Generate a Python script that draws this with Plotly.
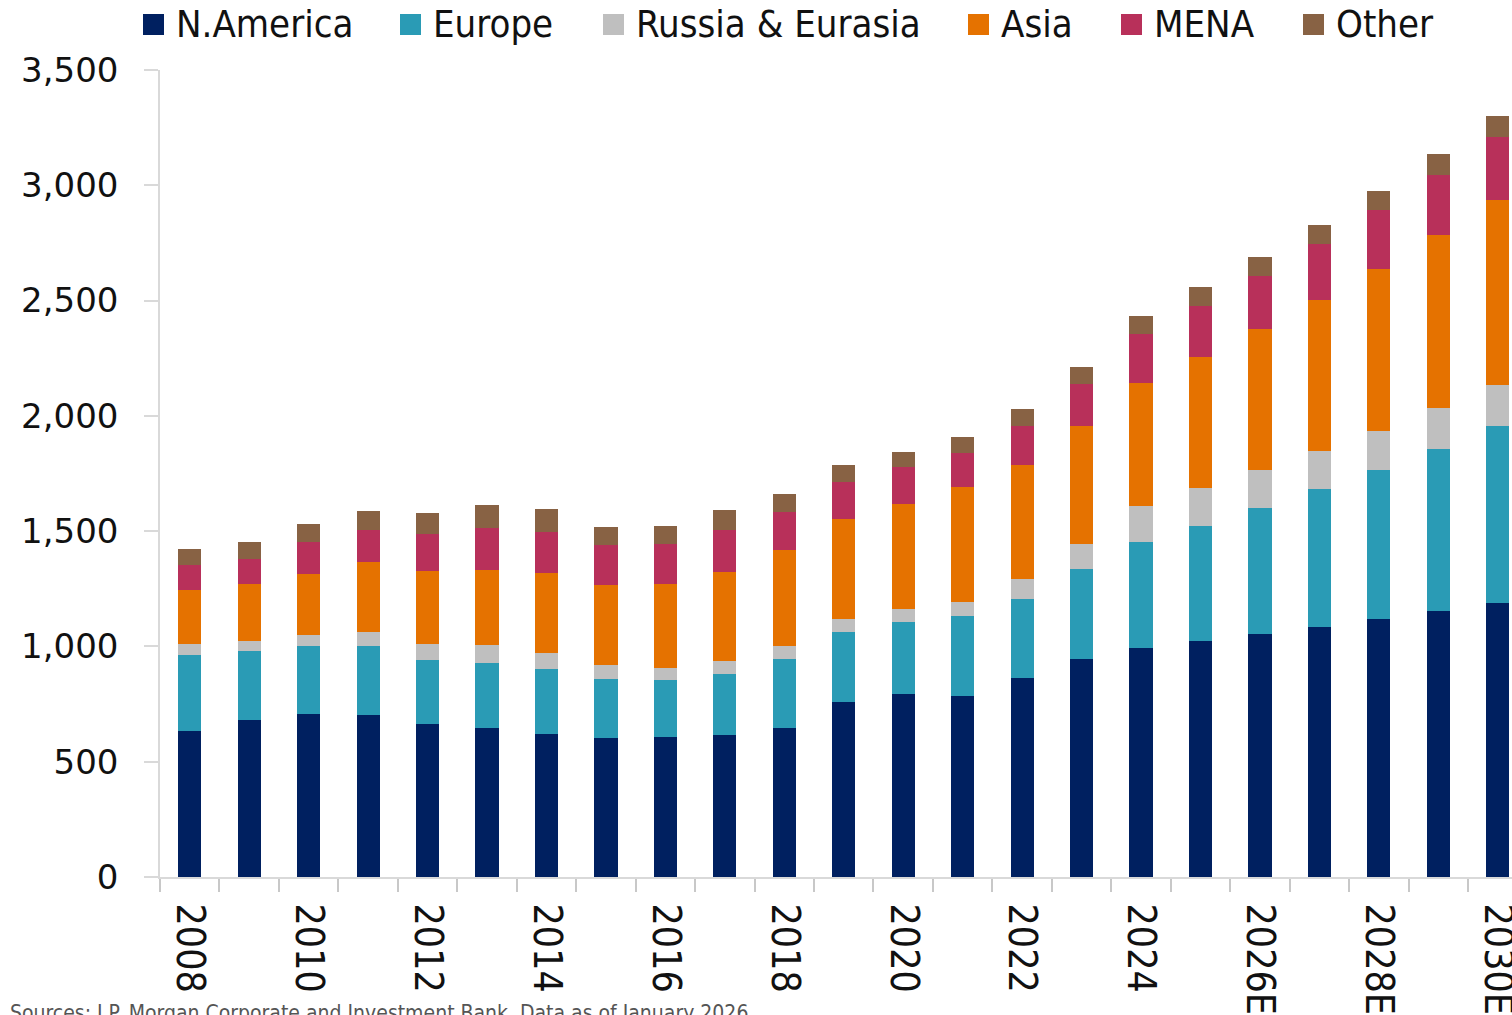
import plotly.graph_objects as go

years = ["2008", "2009", "2010", "2011", "2012", "2013", "2014", "2015", "2016", "2017",
         "2018", "2019", "2020", "2021", "2022", "2023", "2024", "2025", "2026E", "2027E",
         "2028E", "2029E", "2030E"]

n_america = [633, 679, 708, 704, 662, 646, 619, 604, 608, 616, 646, 759, 792, 785, 864, 944,
             994, 1024, 1055, 1085, 1119, 1153, 1187]
europe = [330, 301, 295, 299, 278, 283, 281, 253, 246, 264, 299, 302, 316, 348, 341, 392,
          459, 499, 545, 596, 647, 703, 767]
russia_eurasia = [47, 43, 46, 59, 69, 78, 72, 61, 54, 55, 55, 57, 53, 58, 86, 108,
                  157, 162, 165, 166, 169, 178, 181]
asia = [235, 248, 265, 303, 318, 325, 346, 347, 364, 388, 417, 436, 457, 501, 497, 510,
        534, 571, 611, 654, 703, 749, 802]
mena = [108, 107, 139, 140, 162, 183, 179, 173, 173, 182, 167, 160, 160, 149, 169, 184,
        209, 220, 230, 244, 254, 263, 274]
other = [69, 73, 78, 83, 89, 98, 99, 81, 77, 87, 78, 73, 66, 68, 71, 74,
         80, 81, 84, 82, 84, 88, 89]

series_names = ["N.America", "Europe", "Russia & Eurasia", "Asia", "MENA", "Other"]
series_values = [n_america, europe, russia_eurasia, asia, mena, other]
series_colors = ["#002060", "#2A9BB5", "#BFBFBF", "#E57200", "#B8305A", "#886244"]

y_ticks = [0, 500, 1000, 1500, 2000, 2500, 3000, 3500]
source_text = "Sources: J.P. Morgan Corporate and Investment Bank. Data as of January 2026"

# ---- layout constants (pixels) ----
W, H = 1512, 1015
L, R, T, B = 160, 0, 70, 138
PW, PH = W - L - R, H - T - B
NARROW = "Liberation Sans Narrow, DejaVu Sans Condensed, Arial Narrow, sans-serif"
WIDE = "DejaVu Sans, Verdana, sans-serif"
AXIS_GREY = "#d9d9d9"


def px_x(p):
    return (p - L) / PW


def px_y(p):
    return (H - B - p) / PH


xs = list(range(len(years)))

fig = go.Figure()
for name, vals, col in zip(series_names, series_values, series_colors):
    fig.add_trace(go.Bar(x=xs, y=vals, name=name, marker=dict(color=col, line=dict(width=0)),
                         showlegend=False))

# manual legend (squares + labels)
legend_left_px = [143, 400, 603, 968, 1121, 1303]
shapes = []
annotations = []
for name, col, lx in zip(series_names, series_colors, legend_left_px):
    shapes.append(dict(type="rect", xref="paper", yref="paper",
                       x0=px_x(lx), x1=px_x(lx + 21), y0=px_y(35), y1=px_y(14),
                       fillcolor=col, line=dict(width=0)))
    annotations.append(dict(text=name, xref="paper", yref="paper", x=px_x(lx + 31), y=px_y(24),
                            xanchor="left", yanchor="middle", showarrow=False,
                            font=dict(family=NARROW, size=38, color="#111111")))

annotations.append(dict(text=source_text, xref="paper", yref="paper", x=px_x(8), y=px_y(999),
                        xanchor="left", yanchor="top", showarrow=False,
                        font=dict(family=NARROW, size=21, color="#555555")))

fig.update_layout(
    width=W, height=H,
    margin=dict(l=L, r=R, t=T, b=B, pad=0, autoexpand=False),
    barmode="stack",
    bargap=0.61,
    plot_bgcolor="white",
    paper_bgcolor="white",
    shapes=shapes,
    annotations=annotations,
)

fig.update_xaxes(
    automargin=False,
    range=[-0.5, 22.24],
    tickmode="array",
    tickvals=xs[::2],
    ticktext=years[::2],
    tickangle=90,
    ticks="outside",
    ticklen=13,
    tickcolor="rgba(0,0,0,0)",
    ticklabelstandoff=4,
    ticklabeloverflow="allow",
    tickfont=dict(family=NARROW, size=39, color="#111111"),
    showline=True, linecolor=AXIS_GREY, linewidth=1.5,
    showgrid=False, zeroline=False,
    minor=dict(tickmode="array", tickvals=[i - 0.5 for i in range(len(years) + 1)],
               ticks="outside", ticklen=13, tickcolor="#c8c8c8", tickwidth=1.5, showgrid=False),
)

fig.update_yaxes(
    automargin=False,
    range=[0, 3500],
    tickmode="array",
    tickvals=y_ticks,
    tickformat=",",
    ticks="outside",
    ticklen=14,
    tickcolor=AXIS_GREY,
    tickwidth=1.5,
    ticklabelstandoff=19,
    tickfont=dict(family=WIDE, size=34, color="#111111"),
    showline=True, linecolor=AXIS_GREY, linewidth=1.5,
    showgrid=False, zeroline=False,
)

fig.write_html("out.html", config={"displayModeBar": False},
               post_script="document.body.style.margin='0';document.body.style.overflow='hidden';")
